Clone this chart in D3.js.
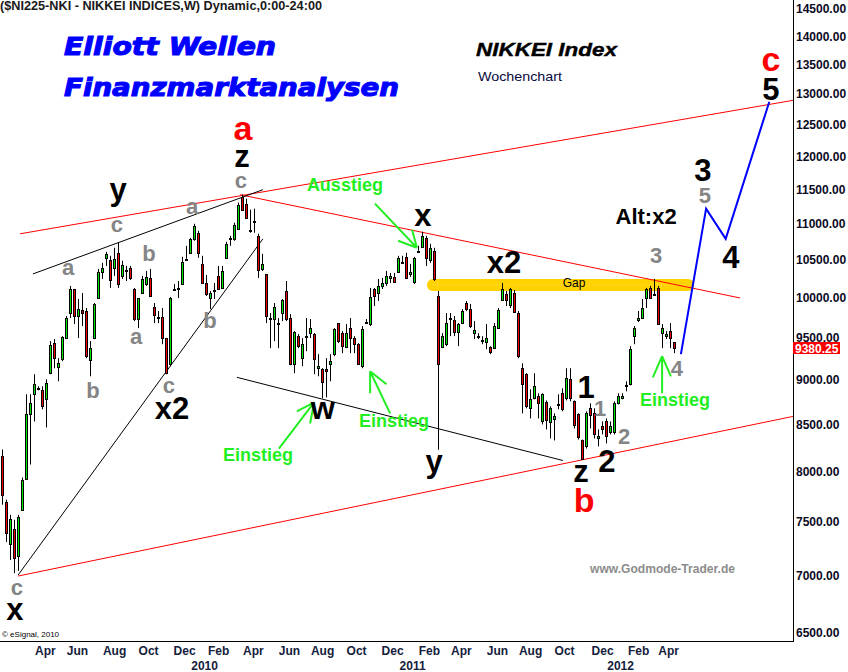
<!DOCTYPE html>
<html>
<head>
<meta charset="utf-8">
<script src="https://cdn.jsdelivr.net/npm/d3@7"></script>
<style>
    body { margin: 0; background: #ffffff; }
    svg { display: block; }
</style>
</head>
<body>
<div id="data-viz"></div>
<script>

// weekly bars, [open, high, low, close]
const weeklyBars = [
    [8156, 8230, 7666, 7765], [7696, 7716, 7308, 7394], [7289, 7567, 7140, 7528], [7432, 7518, 7020, 7159],
    [7177, 7567, 7040, 7548], [7616, 7938, 7607, 7917], [7928, 8835, 7917, 8609], [8609, 8835, 8072, 8733],
    [8835, 9066, 8532, 8949], [8903, 8926, 8880, 8903], [8880, 8926, 8666, 8699], [8778, 9007, 8466, 8961],
    [9078, 9460, 9066, 9411], [9436, 9485, 9136, 9255], [9148, 9255, 8984, 9195], [9243, 9521, 9219, 9509],
    [9497, 9770, 9485, 9745], [9808, 10156, 9745, 10116], [10116, 10116, 9670, 9770], [9770, 9987, 9497, 9858],
    [9846, 10064, 9645, 9808], [9833, 9871, 9255, 9279], [9231, 9460, 9042, 9375], [9497, 9935, 9485, 9922],
    [10000, 10381, 10000, 10341], [10341, 10462, 10248, 10394], [10530, 10611, 10421, 10584], [10503, 10557, 10130, 10234],
    [10394, 10667, 10288, 10516], [10598, 10735, 10130, 10182], [10288, 10489, 10248, 10435], [10368, 10421, 10221, 10368],
    [10394, 10421, 10234, 10261], [10116, 10130, 9707, 9732], [9732, 10000, 9620, 10000], [10064, 10288, 10051, 10248],
    [10182, 10354, 10156, 10274], [10261, 10381, 10026, 10026], [9884, 9935, 9682, 9783], [9757, 9833, 9682, 9757],
    [9757, 9871, 9423, 9497], [9497, 9497, 9066, 9078], [9184, 10013, 9160, 10000], [10116, 10182, 10090, 10116],
    [10130, 10221, 10000, 10130], [10182, 10543, 10182, 10475], [10516, 10694, 10516, 10516], [10598, 10804, 10584, 10790],
    [10790, 11001, 10763, 10973], [10875, 10903, 10530, 10598], [10448, 10557, 10182, 10195], [10195, 10300, 10026, 10051],
    [10000, 10090, 9858, 10064], [10103, 10195, 9987, 10103], [10288, 10421, 10103, 10116], [10130, 10421, 10116, 10354],
    [10530, 10749, 10530, 10721], [10804, 10832, 10694, 10804], [10790, 11016, 10763, 10987], [10931, 11304, 10917, 11275],
    [11392, 11421, 11202, 11202], [11290, 11362, 11088, 11088], [10917, 11202, 10875, 10917], [11044, 11217, 10875, 11044],
    [10832, 10861, 10261, 10368], [10381, 10584, 10354, 10448], [10314, 10314, 9682, 9770], [9745, 9808, 9375, 9745],
    [9732, 9935, 9460, 9884], [9682, 9745, 9375, 9682], [9808, 9987, 9707, 9974], [10090, 10221, 9707, 9732],
    [9745, 9795, 9172, 9184], [9184, 9583, 9078, 9571], [9521, 9546, 9375, 9399], [9255, 9497, 9160, 9423],
    [9521, 9745, 9339, 9521], [9558, 9732, 9497, 9620], [9546, 9558, 9066, 9243], [9136, 9303, 9042, 9160],
    [9124, 9136, 8790, 8972], [9124, 9255, 8800, 9101], [9184, 9303, 8984, 9219], [9303, 9620, 9279, 9608],
    [9682, 9682, 9436, 9460], [9558, 9583, 9315, 9399], [9387, 9670, 9375, 9558], [9620, 9745, 9315, 9497],
    [9497, 9521, 9315, 9423], [9423, 9436, 9184, 9184], [9160, 9645, 9136, 9608], [9695, 9732, 9670, 9695],
    [9670, 10130, 9645, 10013], [10116, 10130, 9897, 10026], [10064, 10248, 9961, 10156], [10156, 10261, 10116, 10195],
    [10195, 10354, 10156, 10288], [10261, 10327, 10195, 10288], [10274, 10327, 10195, 10208], [10341, 10557, 10327, 10530],
    [10475, 10557, 10448, 10475], [10543, 10598, 10261, 10261], [10314, 10448, 10274, 10341], [10208, 10543, 10182, 10530],
    [10625, 10694, 10625, 10625], [10680, 10889, 10667, 10832], [10804, 10832, 10421, 10530], [10503, 10721, 10462, 10667],
    [10625, 10667, 10221, 10248], [10026, 10090, 8227, 9184], [9387, 9558, 9375, 9521], [9423, 9808, 9399, 9682],
    [9745, 9808, 9521, 9745], [9720, 9770, 9521, 9571], [9571, 9682, 9399, 9670], [9682, 9858, 9670, 9833],
    [9935, 9961, 9833, 9858], [9858, 9922, 9620, 9645], [9558, 9707, 9485, 9596], [9521, 9558, 9485, 9521],
    [9473, 9521, 9423, 9473], [9448, 9670, 9363, 9497], [9387, 9399, 9303, 9327], [9375, 9682, 9363, 9645],
    [9620, 9871, 9608, 9846], [9974, 10195, 9961, 10116], [10051, 10090, 9897, 9974], [9910, 10130, 9871, 10116],
    [10064, 10103, 9808, 9820], [9808, 9833, 9255, 9279], [9136, 9195, 8621, 8949], [9066, 9078, 8677, 8699],
    [8677, 8892, 8565, 8778], [8789, 9078, 8778, 8926], [8812, 8846, 8565, 8733], [8532, 8846, 8499, 8835],
    [8744, 8766, 8445, 8543], [8521, 8699, 8347, 8677], [8554, 8621, 8326, 8587], [8721, 8835, 8666, 8721],
    [8846, 8903, 8643, 8666], [8789, 9136, 8766, 9019], [9007, 9136, 8755, 8789], [8755, 8766, 8455, 8488],
    [8609, 8621, 8336, 8358], [8326, 8336, 8124, 8135], [8262, 8643, 8240, 8621], [8677, 8733, 8455, 8598],
    [8621, 8677, 8347, 8391], [8347, 8445, 8262, 8369], [8477, 8532, 8391, 8445], [8532, 8565, 8294, 8369],
    [8412, 8532, 8391, 8477], [8412, 8755, 8391, 8733], [8733, 8846, 8721, 8812], [8789, 8846, 8778, 8812],
    [8937, 8984, 8869, 8937], [8949, 9399, 8937, 9363], [9521, 9645, 9423, 9620], [9720, 9833, 9695, 9745],
    [9745, 9987, 9745, 9871], [10000, 10130, 9871, 10116], [10130, 10156, 9987, 10000], [10051, 10248, 10026, 10051],
    [10130, 10156, 9670, 9670], [9558, 9670, 9375, 9620], [9521, 9583, 9485, 9546], [9583, 9682, 9375, 9497],
    [9448, 9448, 9315, 9380]
]

const lastPrice = 9380.25

const priceTicks = [14500, 14000, 13500, 13000, 12500, 12000, 11500, 11000, 10500, 10000, 9500, 9000, 8500, 8000, 7500, 7000, 6500]

// month / year labels, placed at the bar index they sit under
const monthTicks = [10.6, 18.6, 27.9, 36.4, 45.4, 53.9, 62.6, 71.6, 79.9, 88.4, 97.4, 106.6, 114.6, 123.6, 131.9, 140.4, 149.9, 158.9, 166.4]
const monthLabels = ["Apr", "Jun", "Aug", "Oct", "Dec", "Feb", "Apr", "Jun", "Aug", "Oct", "Dec", "Feb", "Apr", "Jun", "Aug", "Oct", "Dec", "Feb", "Apr"]
const yearTicks = [50.4, 102.4, 154.4]
const yearLabels = ["2010", "2011", "2012"]

// trend lines as [bar index, price]
const redLines = [
    [[4.4, 10860], [197.6, 12893]],
    [[3.9, 6994], [197.6, 8587]],
    [[59.4, 11420], [184.4, 10000]]
]
const blackLines = [
    [[7.6, 10314], [65.1, 11494]],
    [[3.9, 7003], [65.1, 10790]],
    [[58.6, 9030], [140.1, 8114]]
]
const gapZone = [[107.6, 10169], [171.4, 10169]]
const forecastPath = [[169.6, 9303], [175.9, 11217], [180.8, 10790], [191.7, 12870]]

const arrows = [
    { tail: [93.1, 11290], tip: [103.6, 10667], barbs: [[98.9, 10763], [102.4, 10917]] },
    { tail: [69.1, 8240], tip: [77.9, 8744], barbs: [[73.6, 8643], [76.9, 8510]] },
    { tail: [96.9, 8621], tip: [91.9, 9101], barbs: [[96.0, 8949], [91.9, 8846]] },
    { tail: [164.9, 8846], tip: [164.9, 9279], barbs: [[162.6, 9030], [167.1, 9042]] }
]

// wave labels: [text, bar index, price at baseline, kind]
const waveLabels = [
    ["a", 60.1, 12260, "red"], ["z", 59.9, 11841, "black"], ["c", 59.6, 11524, "gray"],
    ["y", 28.9, 11347, "black"], ["c", 28.6, 10889, "gray"], ["a", 16.4, 10301, "gray"],
    ["b", 36.6, 10489, "gray"], ["a", 47.4, 11145, "gray"], ["a", 33.4, 9423, "gray"],
    ["b", 22.6, 8789, "gray"], ["c", 41.6, 8846, "gray"], ["b", 51.9, 9620, "gray"],
    ["x2", 42.4, 8554, "black"], ["c", 3.6, 6825, "gray"], ["x", 3.1, 6608, "black"],
    ["Ausstieg", 85.6, 11480, "green"], ["x", 105.1, 10973, "black"], ["w", 80.1, 8554, "black"],
    ["Einstieg", 63.9, 8114, "green"], ["Einstieg", 97.9, 8466, "green"], ["y", 107.9, 7999, "black"],
    ["x2", 125.4, 10327, "black"], ["Gap", 142.9, 10143, "gap"], ["1", 145.9, 8789, "black"],
    ["1", 149.4, 8587, "gray"], ["2", 155.4, 8283, "gray"], ["2", 151.1, 7999, "black"],
    ["z", 144.6, 7897, "black"], ["b", 145.4, 7597, "red"], ["3", 163.4, 10462, "gray"],
    ["Alt:x2", 160.9, 11001, "alt"], ["3", 175.1, 11629, "black"], ["5", 175.6, 11304, "gray"],
    ["4", 182.1, 10394, "black"], ["5", 192.1, 12893, "black"], ["c", 192.1, 13385, "red"],
    ["4", 168.6, 9042, "gray"], ["Einstieg", 168.1, 8699, "green"]
]

const labelStyles = {
    black: { size: 31, fill: "#000000" },
    red: { size: 34, fill: "#ff0000" },
    gray: { size: 22, fill: "#858585" },
    green: { size: 18, fill: "#22ee22" },
    alt: { size: 22, fill: "#000000" },
    gap: { size: 12, fill: "#000000", weight: "normal" }
}

const font = '"Liberation Sans", Arial, sans-serif'

class NikkeiChart {

    constructor(selector) {

        var self = this

        this.width = 848

        this.height = 672

        this.plotRight = 793

        this.plotBottom = 641

        this.x = d3.scaleLinear()
                    .domain([0, weeklyBars.length - 1])
                    .range([2.5, 674.5])

        this.y = d3.scaleLog()
                    .domain([6500, 14500])
                    .range([633, 9])

        this.svg = d3.select(selector).append("svg")
                    .attr("width", self.width)
                    .attr("height", self.height)
                    .attr("font-family", font)

        this.create()

    }

    pt(d) {

        return [this.x(d[0]), this.y(d[1])]

    }

    create() {

        this.drawFrame()

        this.drawGap()

        this.drawTrendLines()

        this.drawCandles()

        this.drawForecast()

        this.drawArrows()

        this.drawTexts()

        this.drawLabels()

    }

    drawFrame() {

        var self = this

        self.svg.append("line")
            .attr("x1", self.plotRight + 0.5).attr("x2", self.plotRight + 0.5)
            .attr("y1", 0).attr("y2", self.plotBottom + 1)
            .attr("stroke", "#000")

        self.svg.append("line")
            .attr("x1", 0).attr("x2", self.plotRight + 1)
            .attr("y1", self.plotBottom + 0.5).attr("y2", self.plotBottom + 0.5)
            .attr("stroke", "#000")

        var yAxis = d3.axisRight(self.y)
                        .tickValues(priceTicks)
                        .tickFormat(d3.format(".2f"))
                        .tickSize(0)
                        .tickPadding(3)

        var gy = self.svg.append("g")
                    .attr("transform", `translate(${self.plotRight},0)`)
                    .call(yAxis)

        gy.select(".domain").remove()

        gy.selectAll("text")
            .attr("font-family", font)
            .attr("font-size", 12)
            .attr("font-weight", "bold")
            .attr("fill", "#0a0a24")

        var months = d3.axisBottom(self.x)
                        .tickValues(monthTicks)
                        .tickFormat((d, i) => monthLabels[i])
                        .tickSize(0)
                        .tickPadding(5.5)

        var years = d3.axisBottom(self.x)
                        .tickValues(yearTicks)
                        .tickFormat((d, i) => yearLabels[i])
                        .tickSize(0)
                        .tickPadding(20)

        ;[months, years].forEach(function(axis) {

            var g = self.svg.append("g")
                        .attr("transform", `translate(0,${self.plotBottom})`)
                        .call(axis)

            g.select(".domain").remove()

            g.selectAll("text")
                .attr("font-family", font)
                .attr("font-size", 12)
                .attr("font-weight", "bold")
                .attr("fill", "#14213d")

        })

        // last price marker
        var ly = self.y(lastPrice)

        self.svg.append("rect")
            .attr("x", self.plotRight)
            .attr("y", Math.round(ly) - 6)
            .attr("width", 47)
            .attr("height", 12)
            .attr("fill", "#ff0000")

        self.svg.append("text")
            .attr("x", self.plotRight + 2)
            .attr("y", Math.round(ly) + 4.5)
            .attr("font-size", 12)
            .attr("font-weight", "bold")
            .attr("fill", "#ffffff")
            .text(d3.format(".2f")(lastPrice))

    }

    drawGap() {

        var self = this

        var line = d3.line().x(d => self.x(d[0])).y(d => self.y(d[1]))

        self.svg.append("path")
            .attr("d", line(gapZone))
            .attr("stroke", "#ffd200")
            .attr("stroke-width", 12)
            .attr("stroke-linecap", "round")
            .attr("fill", "none")

        self.svg.append("path")
            .attr("d", line(gapZone))
            .attr("stroke", "#ffe680")
            .attr("stroke-width", 1)
            .attr("stroke-dasharray", "1,3")
            .attr("fill", "none")

    }

    drawTrendLines() {

        var self = this

        var line = d3.line().x(d => self.x(d[0])).y(d => self.y(d[1]))

        self.svg.append("g").selectAll("path")
            .data(redLines)
            .join("path")
            .attr("d", line)
            .attr("stroke", "#ff0000")
            .attr("stroke-width", 1)
            .attr("fill", "none")

        self.svg.append("g").selectAll("path")
            .data(blackLines)
            .join("path")
            .attr("d", line)
            .attr("stroke", "#000000")
            .attr("stroke-width", 1)
            .attr("fill", "none")

    }

    drawCandles() {

        var self = this

        var top = d => Math.round(self.y(Math.max(d[0], d[3])))

        var bottom = d => Math.round(self.y(Math.min(d[0], d[3])))

        var bars = self.svg.append("g")
                    .selectAll("g")
                    .data(weeklyBars)
                    .join("g")

        bars.append("line")
            .attr("x1", (d, i) => self.x(i))
            .attr("x2", (d, i) => self.x(i))
            .attr("y1", d => self.y(d[1]))
            .attr("y2", d => self.y(d[2]))
            .attr("stroke", "#000")

        bars.append("rect")
            .attr("x", (d, i) => self.x(i) - 1)
            .attr("y", d => top(d) + 0.5)
            .attr("width", 2)
            .attr("height", d => Math.max(1, bottom(d) - top(d)))
            .attr("fill", d => (d[3] > d[0]) ? "#00e600" : (d[3] < d[0]) ? "#ee0000" : "#000")
            .attr("stroke", "#000")

    }

    drawForecast() {

        var self = this

        var line = d3.line().x(d => self.x(d[0])).y(d => self.y(d[1]))

        self.svg.append("path")
            .attr("d", line(forecastPath))
            .attr("stroke", "#0000ff")
            .attr("stroke-width", 2)
            .attr("fill", "none")

    }

    drawArrows() {

        var self = this

        var g = self.svg.append("g")
                    .attr("stroke", "#22ee22")
                    .attr("stroke-width", 2)
                    .attr("fill", "none")

        arrows.forEach(function(a) {

            var tip = self.pt(a.tip)

            var path = d3.path()

            path.moveTo(...self.pt(a.tail))
            path.lineTo(...tip)

            a.barbs.forEach(function(b) {

                path.moveTo(...self.pt(b))
                path.lineTo(...tip)

            })

            g.append("path").attr("d", path.toString())

        })

    }

    drawTexts() {

        var self = this

        self.svg.append("text")
            .attr("x", 0).attr("y", 10)
            .attr("font-size", 12)
            .attr("font-weight", "bold")
            .attr("fill", "#1a1a1a")
            .attr("textLength", 322)
            .attr("lengthAdjust", "spacingAndGlyphs")
            .text("($NI225-NKI - NIKKEI INDICES,W) Dynamic,0:00-24:00")

        var titles = [["Elliott Wellen", 55, 212], ["Finanzmarktanalysen", 96, 335]]

        titles.forEach(function(t) {

            self.svg.append("text")
                .attr("x", 64).attr("y", t[1])
                .attr("font-family", '"DejaVu Sans", sans-serif')
                .attr("font-size", 25)
                .attr("font-weight", "bold")
                .attr("font-style", "italic")
                .attr("fill", "#0000ff")
                .attr("stroke", "#0000ff")
                .attr("stroke-width", 1.1)
                .attr("textLength", t[2])
                .attr("lengthAdjust", "spacingAndGlyphs")
                .text(t[0])

        })

        self.svg.append("text")
            .attr("x", 476).attr("y", 56)
            .attr("font-size", 19)
            .attr("font-weight", "bold")
            .attr("font-style", "italic")
            .attr("fill", "#000")
            .attr("stroke", "#000")
            .attr("stroke-width", 0.4)
            .attr("textLength", 141)
            .attr("lengthAdjust", "spacingAndGlyphs")
            .text("NIKKEI Index")

        self.svg.append("text")
            .attr("x", 478).attr("y", 81)
            .attr("font-size", 13)
            .attr("fill", "#0a0a40")
            .attr("textLength", 84)
            .attr("lengthAdjust", "spacingAndGlyphs")
            .text("Wochenchart")

        self.svg.append("text")
            .attr("x", 590).attr("y", 573)
            .attr("font-size", 12)
            .attr("font-weight", "bold")
            .attr("fill", "#8c8c8c")
            .attr("textLength", 145)
            .attr("lengthAdjust", "spacingAndGlyphs")
            .text("www.Godmode-Trader.de")

        self.svg.append("text")
            .attr("x", 2).attr("y", 637)
            .attr("font-size", 8)
            .attr("fill", "#000")
            .text("© eSignal, 2010")

    }

    drawLabels() {

        var self = this

        self.svg.append("g")
            .selectAll("text")
            .data(waveLabels)
            .join("text")
            .attr("x", d => self.x(d[1]))
            .attr("y", d => self.y(d[2]))
            .attr("text-anchor", "middle")
            .attr("font-size", d => labelStyles[d[3]].size)
            .attr("font-weight", d => labelStyles[d[3]].weight || "bold")
            .attr("fill", d => labelStyles[d[3]].fill)
            .text(d => d[0])

    }

}

new NikkeiChart("#data-viz")

</script>
</body>
</html>
